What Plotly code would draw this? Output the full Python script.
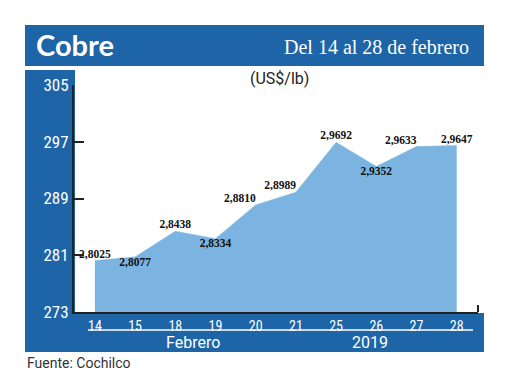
import plotly.graph_objects as go

# ---- data ----
days = ["14", "15", "18", "19", "20", "21", "25", "26", "27", "28"]
price_cents = [280.25, 280.77, 284.38, 283.34, 288.10, 289.89, 296.92, 293.52, 296.33, 296.47]
label_pos = ["top center", "bottom center", "top center", "bottom center", "top left",
             "top left", "top center", "bottom center", "top left", "top center"]
y_ticks = [273, 281, 289, 297, 305]
title_left = "Cobre"
title_right = "Del 14 al 28 de febrero"
unit = "(US$/lb)"
month_label = "Febrero"
year_label = "2019"
source = "Fuente: Cochilco"

labels = [f"{v/100:.4f}".replace(".", ",") for v in price_cents]

# page body has an 8px margin; work in reference pixel coordinates and shift
OFF = 8
W, H = 520 - OFF, 390 - OFF
L = 74 - OFF
T = 85 - OFF
R = W - (478 - OFF)
B = H - (312 - OFF)
PW, PH = W - L - R, H - T - B
def px(x):
    return (x - OFF - L) / PW
def py(y):
    return (H - B - (y - OFF)) / PH

BLUE = "#1e65a8"
AREA = "#7bb4e1"
NARROW = "Roboto Condensed, Roboto, sans-serif"

fig = go.Figure()
fig.add_trace(go.Scatter(
    x=days, y=price_cents, mode="lines+text", fill="tozeroy",
    fillcolor=AREA, line=dict(color=AREA, width=0.5),
    text=labels, textposition=label_pos,
    textfont=dict(family="Liberation Serif, serif", size=11.5,
                  color="#111", weight="bold"),
    hoverinfo="skip", cliponaxis=False,
))

shapes = [
    dict(type="rect", xref="paper", yref="paper", x0=px(25), x1=px(484), y0=py(66), y1=py(25),
         fillcolor=BLUE, line=dict(width=0), layer="below"),
    dict(type="rect", xref="paper", yref="paper", x0=px(25), x1=px(75), y0=py(352), y1=py(70),
         fillcolor=BLUE, line=dict(width=0), layer="below"),
    dict(type="rect", xref="paper", yref="paper", x0=px(25), x1=px(484), y0=py(352), y1=py(313),
         fillcolor=BLUE, line=dict(width=0), layer="below"),
    dict(type="line", xref="paper", yref="paper", x0=px(88), x1=px(473), y0=py(330), y1=py(330),
         line=dict(color="white", width=1.5)),
    dict(type="line", xref="paper", yref="paper", x0=1, x1=1, y0=0, y1=py(305),
         line=dict(color="#222", width=2)),
]

annotations = [
    dict(text=f"<b>{title_left}</b>", x=px(34), y=py(45), xref="paper", yref="paper",
         xanchor="left", yanchor="middle", showarrow=False,
         font=dict(family="Lato, sans-serif", size=29, color="white")),
    dict(text=title_right, x=px(471), y=py(47), xref="paper", yref="paper",
         xanchor="right", yanchor="middle", showarrow=False,
         font=dict(family="Liberation Serif, serif", size=20, color="white")),
    dict(text=unit, x=px(279), y=py(78), xref="paper", yref="paper",
         xanchor="center", yanchor="middle", showarrow=False,
         font=dict(family="Roboto, sans-serif", size=16, color="#222")),
    dict(text=month_label, x=px(193), y=py(342), xref="paper", yref="paper",
         xanchor="center", yanchor="middle", showarrow=False,
         font=dict(family="Roboto, sans-serif", size=16, color="white")),
    dict(text=year_label, x=px(370), y=py(342), xref="paper", yref="paper",
         xanchor="center", yanchor="middle", showarrow=False,
         font=dict(family="Roboto, sans-serif", size=16, color="white")),
    dict(text=source, x=px(25), y=py(363), xref="paper", yref="paper",
         xanchor="left", yanchor="middle", showarrow=False,
         font=dict(family="Roboto, sans-serif", size=14, color="#333")),
]

fig.update_layout(
    width=W, height=H, margin=dict(l=L, r=R, t=T, b=B),
    paper_bgcolor="white", plot_bgcolor="white",
    showlegend=False, shapes=shapes, annotations=annotations,
    xaxis=dict(type="category", range=[-0.52, 9.53], showgrid=False, zeroline=False,
               showline=True, linecolor="#222", linewidth=2, ticks="",
               tickfont=dict(family=NARROW, size=14, color="white")),
    yaxis=dict(range=[273, 305], tickvals=y_ticks, showgrid=False, zeroline=False,
               showline=True, linecolor="#222", linewidth=2, ticks="inside",
               ticklen=10, tickwidth=2, tickcolor="#222",
               tickfont=dict(family=NARROW, size=17, color="white")),
)

fig.write_html("out.html")
